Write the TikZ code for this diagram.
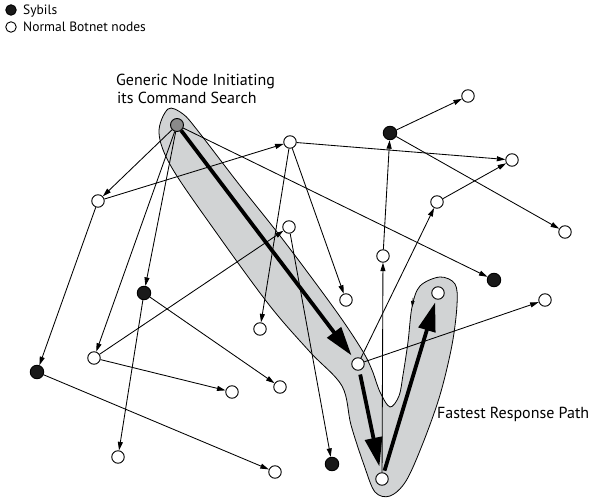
\documentclass[tikz,border=0pt]{standalone}
\usepackage{fontspec}
\setmainfont{PT Sans}
\usetikzlibrary{arrows.meta}
\definecolor{bandgray}{HTML}{D1D3D4}
\definecolor{seedgray}{HTML}{8A8A8A}
\begin{document}
\begin{tikzpicture}[x=1pt,y=-1pt,
  bot/.style={circle,draw=black,fill=white,line width=0.9pt,minimum size=12.5pt,inner sep=0pt},
  sybil/.style={bot,fill=black!90,minimum size=13.5pt},
  seed/.style={bot,fill=seedgray,minimum size=13pt},
  link/.style={line width=0.85pt,-{Triangle[length=8.5pt,width=5pt]}},
  fast/.style={line width=3.8pt,-{Triangle[length=29pt,width=17pt]}},
  lbl/.style={inner sep=0pt,anchor=base west,font=\fontsize{16}{18}\selectfont},
  keytext/.style={inner sep=0pt,anchor=base west,font=\fontsize{13.5}{15}\selectfont}]
\useasboundingbox (0,0) rectangle (603,502);

% shaded band around the fastest response path
\draw[fill=bandgray,line width=0.8pt] plot[smooth cycle,tension=0.55] coordinates {
  (168,109) (183,114) (198,131) (238,183) (284,241) (336,311) (362,350)
  (372,370) (380,392) (390,407) (399,396) (403,375) (408,342) (412,307)
  (420,286) (440,277) (455,284) (457,305) (452,345) (440,395) (423,443)
  (406,481) (390,496) (375,492) (364,465) (351,425) (342,386) (310,352)
  (270,306) (218,235) (172,168) (159,133)};
\draw[line width=0.6pt,-{Triangle[length=6pt,width=3.5pt]}] (413,298) -- (412.2,307);

% botnet nodes
\node[seed]  (G)  at (177,125) {};
\node[bot]   (A)  at (290,142) {};
\node[bot]   (B)  at (98,201)  {};
\node[sybil] (S1) at (390,133) {};
\node[bot]   (C)  at (468,96)  {};
\node[bot]   (D)  at (512,160) {};
\node[bot]   (E)  at (437,202) {};
\node[bot]   (F)  at (565,232) {};
\node[bot]   (H)  at (289,227) {};
\node[bot]   (I)  at (383,256) {};
\node[sybil] (S2) at (494,280) {};
\node[bot]   (J)  at (346,300) {};
\node[bot]   (K)  at (438,293) {};
\node[bot]   (L)  at (545,300) {};
\node[bot]   (M)  at (358,364) {};
\node[bot]   (N)  at (382,479) {};
\node[sybil] (S3) at (332,464) {};
\node[sybil] (S4) at (144,293) {};
\node[bot]   (O)  at (260,329) {};
\node[bot]   (P)  at (94,358)  {};
\node[sybil] (S5) at (37,372)  {};
\node[bot]   (Q)  at (232,392) {};
\node[bot]   (R)  at (280,387) {};
\node[bot]   (T)  at (118,457) {};
\node[bot]   (U)  at (275,472) {};

% command propagation links
\draw[link] (G) -- (B);
\draw[link] (G) -- (P);
\draw[link] (G) -- (S4);
\draw[link] (G) -- (S2);
\draw[link] (B) -- (A);
\draw[link] (B) -- (S5);
\draw[link] (A) -- (D);
\draw[link] (A) -- (J);
\draw[link] (A) -- (O);
\draw[link] (P) -- (H);
\draw[link] (P) -- (Q);
\draw[link] (H) -- (S3);
\draw[link] (S1) -- (C);
\draw[link] (S1) -- (F);
\draw[link] (I) -- (S1);
\draw[link] (E) -- (D);
\draw[link] (M) -- (E);
\draw[link] (N) -- (I);
\draw[link] (M) -- (L);
\draw[link] (S4) -- (R);
\draw[link] (S4) -- (T);
\draw[link] (S5) -- (U);

% fastest response path
\draw[fast,shorten >=4pt] (G) -- (M);
\draw[fast,shorten <=4pt,shorten >=6pt] (M) -- (N);
\draw[fast,shorten <=2pt,shorten >=3pt] (N) -- (K);

% captions
\node[lbl] (cap1) at (116,86)  {Generic Node Initiating};
\node[lbl] (cap2) at (117,104) {its Command Search};
\node[lbl] (cap3) at (437,419) {Fastest Response Path};

% legend
\node[sybil,minimum size=10.5pt] (keyS) at (11,10) {};
\node[keytext] (keyStext) at (23,14.5) {Sybils};
\node[bot,minimum size=10.5pt] (keyN) at (11,27) {};
\node[keytext] (keyNtext) at (23,31.5) {Normal Botnet nodes};
\end{tikzpicture}
\end{document}
